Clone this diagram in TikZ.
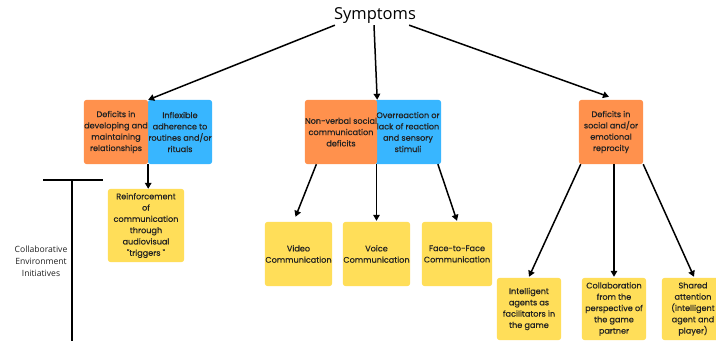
\documentclass[tikz,border=0pt]{standalone}
\usepackage{fontspec}
\setmainfont{Poppins}
\newfontfamily\boxfont[FakeBold=0.5]{Poppins}
\newfontfamily\symfont{Open Sans}
\usetikzlibrary{arrows.meta,calc,backgrounds}
\definecolor{cor}{HTML}{FF914D}
\definecolor{cbl}{HTML}{38B6FF}
\definecolor{cye}{HTML}{FFDE59}
\definecolor{ctx}{HTML}{222222}
\tikzset{
  box/.style={rectangle, inner sep=0pt, align=center,
    font=\boxfont\fontsize{8.1}{11.3}\selectfont, text=ctx},
  obox/.style={box},
  bbox/.style={box},
  ybox/.style={box},
  boxfill/.style={rounded corners=3pt},
  arr/.style={line width=1.5pt, -{Triangle[length=6pt,width=6.5pt]}},
  tline/.style={line width=1.5pt}
}
\begin{document}
\begin{tikzpicture}[x=1pt,y=-1pt]
\useasboundingbox (0,0) rectangle (716,341);

\node[font=\symfont\fontsize{16.5}{18}\selectfont, inner sep=0pt] (sym) at (375,16) {Symptoms};

\node[bbox, minimum width=64pt, minimum height=64pt] (b1) at (180,132) {Inflexible\\adherence to\\routines and/or\\rituals};
\node[obox, minimum width=64pt, minimum height=64pt] (d1) at (116,132) {Deficits in\\developing and\\maintaining\\relationships};
\node[ybox, minimum width=76pt, minimum height=73pt] (y1) at (146,225.5) {Reinforcement\\of\\communication\\through\\audiovisual\\"triggers "};

\node[bbox, minimum width=66pt, minimum height=64pt] (b2) at (408,132) {Overreaction or\\lack of reaction\\and sensory\\stimuli};
\node[obox, minimum width=68pt, minimum height=64pt] (d2) at (341,132) {Non-verbal social\\communication\\deficits};
\node[ybox, minimum width=67pt, minimum height=64pt] (vid) at (298.5,254) {Video\\Communication};
\node[ybox, minimum width=67pt, minimum height=64pt] (voi) at (376.5,254) {Voice\\Communication};
\node[ybox, minimum width=70pt, minimum height=64pt] (fac) at (457,254) {Face-to-Face\\Communication};

\node[obox, minimum width=64pt, minimum height=64pt] (d3) at (611,132) {Deficits in\\social and/or\\emotional\\reprocity};
\node[ybox, minimum width=64pt, minimum height=62pt] (int) at (529,309) {Intelligent\\agents as\\facilitators in\\the game};
\node[ybox, minimum width=64pt, minimum height=62pt] (col) at (614,309) {Collaboration\\from the\\perspective of\\the game\\partner};
\node[ybox, minimum width=62pt, minimum height=62pt] (sha) at (693,309) {Shared\\attention\\(intelligent\\agent and\\player)};

\node[font=\symfont\fontsize{8.6}{12}\selectfont, align=center, text=ctx, inner sep=0pt] (cei) at (41,261) {Collaborative\\Environment\\Initiatives};

\begin{scope}[on background layer]
\fill[white] (0,0) rectangle (716,341);
\fill[boxfill, cbl] (b1.south west) rectangle (b1.north east);
\fill[boxfill, cbl] (b2.south west) rectangle (b2.north east);
\fill[boxfill, cor] (d1.south west) rectangle (d1.north east);
\fill[boxfill, cor] (d2.south west) rectangle (d2.north east);
\fill[boxfill, cor] (d3.south west) rectangle (d3.north east);
\foreach \n in {y1,vid,voi,fac,int,col,sha}
  \fill[boxfill, cye] (\n.south west) rectangle (\n.north east);
\end{scope}

% arrows from Symptoms
\draw[arr] ($(sym.south west)+(1,1)$) -- (d1.north east);
\draw[arr] ($(sym.south)+(-1,1)$) -- (d2.north east);
\draw[arr] ($(sym.south east)+(-7,1)$) -- ($(d3.north)+(-2,-3)$);

% lower arrows
\draw[arr] (d1.south east) -- ($(d1.south east |- y1.north)$);
\draw[arr] ($(d2.south west)!0.16!(d2.south east)$) -- ($(vid.north)+(-3,-5)$);
\draw[arr] ($(voi.north |- d2.south)$) -- ($(voi.north)+(0,-1)$);
\draw[arr] ($(b2.south west)!0.95!(b2.south east)$) -- ($(fac.north)+(0,-1)$);
\draw[arr] ($(d3.south west)!0.03!(d3.south east)$) -- ($(int.north)+(0,-1)$);
\draw[arr] ($(col.north |- d3.south)$) -- ($(col.north)+(0,-1)$);
\draw[arr] (d3.south east) -- ($(sha.north)+(1,-1)$);

% bracket line
\coordinate (tl) at (43,180);
\coordinate (tr) at (103,180);
\coordinate (tm) at (72,180);
\coordinate (tb) at (72,341);
\draw[tline] (tl) -- (tr);
\draw[tline] (tm) -- (tb);
\end{tikzpicture}
\end{document}
